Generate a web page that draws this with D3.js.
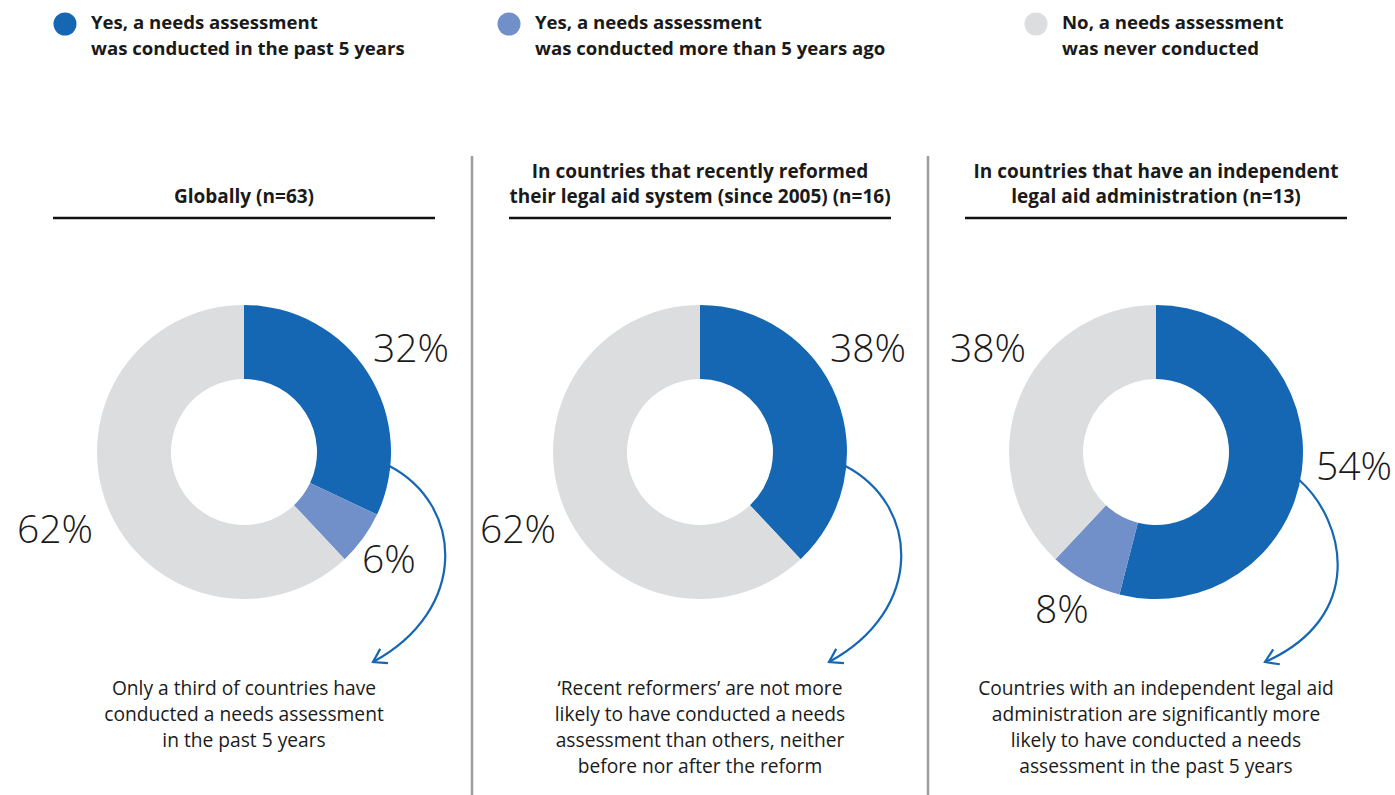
<!DOCTYPE html>
<html>
<head>
<meta charset="utf-8">
<script src="https://cdn.jsdelivr.net/npm/d3@7"></script>
<style>
  html, body { margin: 0; padding: 0; background: #fff; }
  svg { display: block; }
  text { font-family: "Open Sans", "Noto Sans", sans-serif; fill: #1a1a1a; }
</style>
</head>
<body>
<svg id="chart" width="1395" height="795"></svg>
<script>
// Answer categories (legend order = slice order, clockwise from 12 o'clock)
const categories = [
  ["Yes, a needs assessment", "was conducted in the past 5 years"],
  ["Yes, a needs assessment", "was conducted more than 5 years ago"],
  ["No, a needs assessment", "was never conducted"]
];
const colors = ["#1567b3", "#7190c9", "#dcdddf"];

// Panel titles
const titles = [
  ["Globally (n=63)"],
  ["In countries that recently reformed", "their legal aid system (since 2005) (n=16)"],
  ["In countries that have an independent", "legal aid administration (n=13)"]
];

// Percent of countries per category, one array per panel
const globalValues    = [32, 6, 62];
const reformersValues = [38, 0, 62];
const independentValues = [54, 8, 38];
const panelValues = [globalValues, reformersValues, independentValues];

// Annotation under each donut
const notes = [
  ["Only a third of countries have", "conducted a needs assessment", "in the past 5 years"],
  ["\u2018Recent reformers\u2019 are not more", "likely to have conducted a needs", "assessment than others, neither", "before nor after the reform"],
  ["Countries with an independent legal aid", "administration are significantly more", "likely to have conducted a needs", "assessment in the past 5 years"]
];

// Label placement per slice, as [dx, dy] from the donut centre to the text's start/baseline
const labelOffsets = [
  [[129, -90], [118, 121], [-227, 91]],
  [[130, -90], null, [-220, 91]],
  [[160, 28], [-121, 171], [-206, -90]]
];

const svg = d3.select("#chart");
const blue = colors[0];

// Legend
const legendX = [65, 509, 1036];
categories.forEach((lines, i) => {
  const g = svg.append("g").attr("transform", `translate(${legendX[i]},0)`);
  g.append("circle").attr("cx", 0).attr("cy", 24).attr("r", 11.5).attr("fill", colors[i]);
  lines.forEach((l, j) => {
    g.append("text").attr("x", 26).attr("y", 29 + j * 26)
      .attr("font-size", 18.6).attr("font-weight", 700).text(l);
  });
});

// Panel layout
const panelCx = d3.scaleOrdinal().domain([0, 1, 2]).range([244, 700, 1156]);
const cy = 452, outerR = 147, innerR = 73;

const pie = d3.pie().sort(null).value(d => d);
const arc = d3.arc().innerRadius(innerR).outerRadius(outerR);

// Separators between panels
[472, 928].forEach(x => {
  svg.append("line").attr("x1", x).attr("x2", x).attr("y1", 156).attr("y2", 795)
    .attr("stroke", "#9d9d9d").attr("stroke-width", 2.5);
});

panelValues.forEach((vals, p) => {
  const cx = panelCx(p);
  const g = svg.append("g").attr("transform", `translate(${cx},0)`);

  // Title and rule
  const t = titles[p];
  t.forEach((l, j) => {
    g.append("text").attr("x", 0).attr("y", 203 - (t.length - 1 - j) * 25)
      .attr("text-anchor", "middle").attr("font-size", 19).attr("font-weight", 700).text(l);
  });
  g.append("line").attr("x1", -191).attr("x2", 191).attr("y1", 218).attr("y2", 218)
    .attr("stroke", "#111").attr("stroke-width", 2.5);

  // Donut
  const dg = g.append("g").attr("transform", `translate(0,${cy})`);
  const arcs = pie(vals);
  dg.selectAll("path.slice").data(arcs).join("path")
    .attr("class", "slice")
    .attr("d", arc)
    .attr("fill", (d, i) => colors[i]);

  // Percentage labels
  arcs.forEach((d, i) => {
    const off = labelOffsets[p][i];
    if (!off || d.data === 0) return;
    dg.append("text").attr("x", off[0]).attr("y", off[1])
      .attr("font-size", 39).attr("font-weight", 300).text(d.data + "%");
  });

  // Curved arrow from the donut edge down to the note
  const sy = p === 2 ? 28 : 14;
  const start = [Math.sqrt(outerR * outerR - sy * sy) - 1, sy];
  const end = p === 2 ? [109, 210] : [129, 210];
  const c1 = p === 2 ? [190, 70] : [220, 53];
  const c2 = p === 2 ? [210, 165] : [225, 158];
  const path = d3.path();
  path.moveTo(start[0], start[1]);
  path.bezierCurveTo(c1[0], c1[1], c2[0], c2[1], end[0], end[1]);
  dg.append("path").attr("d", path.toString()).attr("fill", "none")
    .attr("stroke", blue).attr("stroke-width", 2.2);

  // Open arrowhead aligned with the curve's final tangent
  const ang = Math.atan2(end[1] - c2[1], end[0] - c2[0]);
  const len = 15, spread = Math.PI / 5.5;
  const head = d3.path();
  head.moveTo(end[0] - len * Math.cos(ang - spread), end[1] - len * Math.sin(ang - spread));
  head.lineTo(end[0], end[1]);
  head.lineTo(end[0] - len * Math.cos(ang + spread), end[1] - len * Math.sin(ang + spread));
  dg.append("path").attr("d", head.toString()).attr("fill", "none")
    .attr("stroke", blue).attr("stroke-width", 2.2).attr("stroke-linejoin", "miter");

  // Note text
  notes[p].forEach((l, j) => {
    g.append("text").attr("x", 0).attr("y", 695 + j * 26)
      .attr("text-anchor", "middle").attr("font-size", 19.2).text(l);
  });
});
</script>
</body>
</html>
